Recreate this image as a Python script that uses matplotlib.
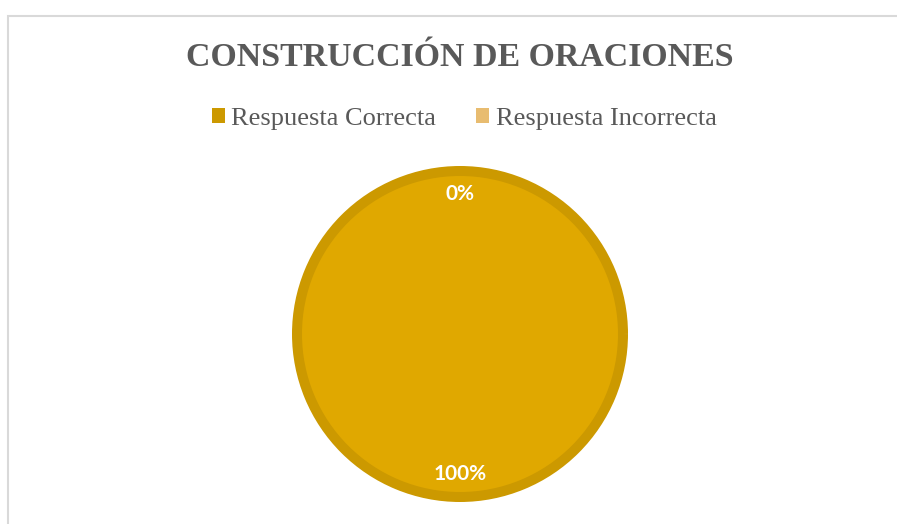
import matplotlib.pyplot as plt
from matplotlib.patches import Rectangle

labels = ['Respuesta Correcta', 'Respuesta Incorrecta']
values = [100, 0]
fills = ['#E0A800', '#E8BC70']
legend_colors = ['#CC9900', '#E8BC70']

W, H = 897, 524
fig = plt.figure(figsize=(W / 100, H / 100), dpi=100, facecolor='white')

# light frame of the chart area (cut off at right / bottom)
fig.patches.append(Rectangle((8 / W, 0 - 0.1), 2, 1 - 16 / H + 0.1, transform=fig.transFigure,
                             fill=False, edgecolor='#D9D9D9', linewidth=1.5))

cx, cy, R = 460, 334, 168
ax = fig.add_axes([(cx - R) / W, (H - cy - R) / H, 2 * R / W, 2 * R / H])
edge_px = 10
wedges, texts, autotexts = ax.pie(values, colors=fills, startangle=90, counterclock=False,
                                  radius=1 - (edge_px / 2) / R,
                                  autopct='%1.0f%%', pctdistance=0.86,
                                  wedgeprops=dict(edgecolor='#CC9900', linewidth=edge_px * 0.72),
                                  textprops=dict(color='white', fontsize=15, fontweight='bold',
                                                 family='Lato'))
for w, v in zip(wedges, values):
    if v == 0:
        w.set_linewidth(0)
ax.set_xlim(-1, 1)
ax.set_ylim(-1, 1)
ax.axis('off')

fig.text(cx / W, 1 - 58 / H, 'CONSTRUCCIÓN DE ORACIONES', ha='center', va='center',
         fontsize=24.4, fontweight='bold', color='#595959', family='Liberation Serif')

handles = [Rectangle((0, 0), 1, 1, facecolor=c, edgecolor='none') for c in legend_colors]
fig.legend(handles, labels, loc='center', bbox_to_anchor=(464 / W, 1 - 119 / H), ncol=2,
           frameon=False, handlelength=0.5, handleheight=0.5, handletextpad=0.25,
           columnspacing=1.5, prop=dict(family='Liberation Serif', size=19),
           labelcolor='#595959')

fig.savefig('out.png', dpi=100, facecolor='white')
